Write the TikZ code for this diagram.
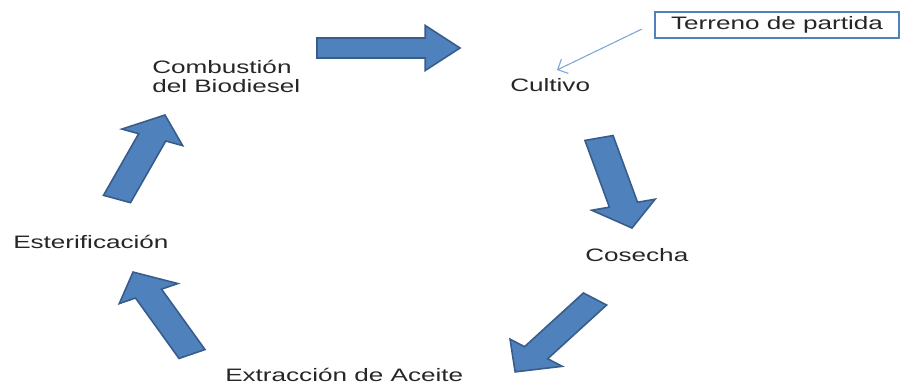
\documentclass[tikz,border=0pt]{standalone}
\usepackage{fontspec}
\setmainfont{Liberation Sans}[FakeStretch=1.45]
\usetikzlibrary{arrows.meta,calc}

\definecolor{arrowfill}{RGB}{79,129,189}
\definecolor{arrowline}{RGB}{56,93,138}
\definecolor{calloutblue}{RGB}{125,165,215}

\newcommand{\xstretch}{1.45}
% block arrow from one named point to another
\newcommand{\blockarrow}[2]{%
  \path let \p1=(#1), \p2=(#2) in \pgfextra{%
    \pgfmathsetmacro\baang{atan2(\y2-\y1,(\x2-\x1)/\xstretch)}%
    \pgfmathsetmacro\balen{veclen((\x2-\x1)/\xstretch,\y2-\y1)}%
    \xdef\baang{\baang}\xdef\balen{\balen}};
  \draw[blockarr, shift={(#1)}, xscale=\xstretch, rotate=\baang]
    (0pt,-7.5pt) -- ({\balen pt-18pt},-7.5pt) -- ({\balen pt-18pt},-16.9pt)
    -- (\balen pt,0pt) -- ({\balen pt-18pt},16.9pt) -- ({\balen pt-18pt},7.5pt)
    -- (0pt,7.5pt) -- cycle;
}

\begin{document}
\begin{tikzpicture}[
  x=0.75pt, y=-0.75pt,
  stage/.style={anchor=base west, inner sep=0pt, text=black!85,
    font=\fontsize{13.5}{13.5}\selectfont},
  blockarr/.style={fill=arrowfill, draw=arrowline, line width=1.2pt, line join=miter},
  tagbox/.style={draw=arrowfill, line width=1.6pt, minimum width=183pt,
    minimum height=19.5pt, inner sep=0pt, text=black!85,
    font=\fontsize{13.5}{13.5}\selectfont}
]
\useasboundingbox[fill=white] (0,0) rectangle (902,385);

\node[stage, align=left] (comb) at (152,92) {Combustión\\del Biodiesel};
\node[stage] (cult) at (510,91) {Cultivo};
\node[stage] (cos) at (585,261) {Cosecha};
\node[stage] (ext) at (225,381) {Extracción de Aceite};
\node[stage] (est) at (13,248) {Esterificación};
\node[tagbox] (terreno) at (777,25) {Terreno de partida};

% ends of the block arrows
\coordinate (comb-out) at (317,48);
\coordinate (cult-in) at (460,48);
\coordinate (cult-out) at (599,138);
\coordinate (cos-in) at (632,228);
\coordinate (cos-out) at (595,299);
\coordinate (ext-in) at (515,372);
\coordinate (ext-out) at (192,354);
\coordinate (est-in) at (133,272);
\coordinate (est-out) at (117,199);
\coordinate (comb-in) at (165,115);

\blockarrow{comb-out}{cult-in}
\blockarrow{cult-out}{cos-in}
\blockarrow{cos-out}{ext-in}
\blockarrow{ext-out}{est-in}
\blockarrow{est-out}{comb-in}

\coordinate (tag-start) at (642,29);
\coordinate (tag-end) at (557,70);
\draw[calloutblue, line width=0.8pt, -{Straight Barb[length=6pt,width=12pt]}]
  (tag-start) -- (tag-end);
\end{tikzpicture}
\end{document}
